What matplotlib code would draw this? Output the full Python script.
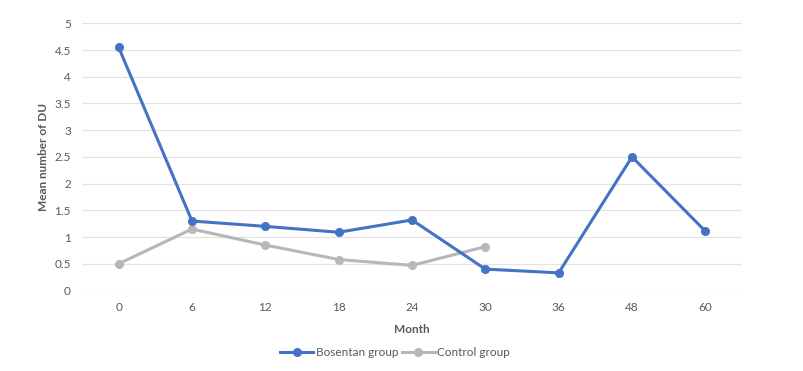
import matplotlib
matplotlib.use("Agg")
import matplotlib.pyplot as plt

months = ["0", "6", "12", "18", "24", "30", "36", "48", "60"]
bosentan = [4.55, 1.30, 1.20, 1.09, 1.32, 0.40, 0.33, 2.50, 1.11]
control = [0.50, 1.15, 0.85, 0.58, 0.47, 0.82]

plt.rcParams['font.family'] = ['Lato', 'DejaVu Sans']

fig = plt.figure(figsize=(8.04, 3.71), dpi=100)
ax = fig.add_axes([82 / 804, 80.5 / 371, 660 / 804, 267.2 / 371])

x = list(range(len(months)))
ax.plot(x, bosentan, color='#4472C4', lw=2.2, marker='o', ms=5.5, label='Bosentan group', zorder=3)
ax.plot(x[:len(control)], control, color='#B7B7B7', lw=2.2, marker='o', ms=5.5, label='Control group', zorder=2)

ax.set_xlim(-0.5, len(months) - 0.5)
ax.set_ylim(0, 5)
ax.set_yticks([0, 0.5, 1, 1.5, 2, 2.5, 3, 3.5, 4, 4.5, 5])
ax.set_yticklabels(['0', '0.5', '1', '1.5', '2', '2.5', '3', '3.5', '4', '4.5', '5'])
ax.set_xticks(x)
ax.set_xticklabels(months)
ax.tick_params(length=0, labelsize=8.5, colors='#595959', pad=8)
ax.yaxis.grid(True, color='#E3E3E3', lw=0.9)
ax.set_axisbelow(True)
for s in ax.spines.values():
    s.set_visible(False)

ax.set_xlabel('Month', fontsize=8.5, fontweight='bold', color='#595959', labelpad=8)
ax.set_ylabel('Mean number of DU', fontsize=8.5, fontweight='bold', color='#595959', labelpad=4)

leg = fig.legend(loc='center', bbox_to_anchor=(395 / 804, 1 - 353 / 371), ncol=2, frameon=False,
                 fontsize=8.5, handlelength=2.8, columnspacing=0.3, handletextpad=0.2)
for t in leg.get_texts():
    t.set_color('#595959')

fig.savefig('out.png', dpi=100)
